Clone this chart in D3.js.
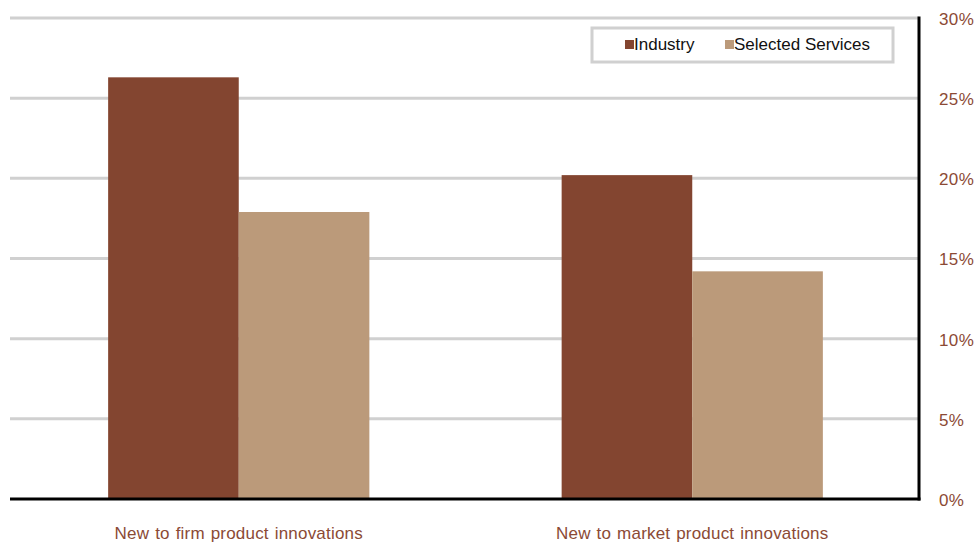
<!DOCTYPE html>
<html><head><meta charset="utf-8">
<script src="https://cdn.jsdelivr.net/npm/d3@7"></script>
<style>body{margin:0;background:#fff}svg{display:block}text{font-family:"Liberation Sans",Arial,sans-serif}</style>
</head><body><svg id="c" width="977" height="545"></svg>
<script>
const categories = ["New to firm product innovations", "New to market product innovations"];
const seriesNames = ["Industry", "Selected Services"];
const industry = [26.3, 20.2];
const services = [17.9, 14.2];
const yTicks = [0, 5, 10, 15, 20, 25, 30];
const colors = ["#834530", "#BB9A7A"];

(function () {
const svg = d3.select("#c");
const mL = 12, mR = 919, mT = 18, mB = 499;
const y = d3.scaleLinear().domain([0, 30]).range([mB, mT]);
const x0 = d3.scaleBand().domain(categories).range([mL, mR]).paddingInner(0.424).paddingOuter(0.212);
const x1 = d3.scaleBand().domain(seriesNames).range([0, x0.bandwidth()]);

svg.append("g").selectAll("line").data(yTicks.filter(d => d > 0)).join("line")
  .attr("x1", mL - 2).attr("x2", mR).attr("y1", d => y(d)).attr("y2", d => y(d))
  .attr("stroke", "#d0d0d0").attr("stroke-width", 3);

const data = categories.map((c, i) => ({c, vals: [industry[i], services[i]]}));
const g = svg.append("g").selectAll("g").data(data).join("g")
  .attr("transform", d => `translate(${x0(d.c)},0)`);
g.selectAll("rect").data(d => d.vals.map((v, j) => ({v, s: seriesNames[j], j}))).join("rect")
  .attr("x", d => x1(d.s)).attr("width", x1.bandwidth())
  .attr("y", d => y(d.v)).attr("height", d => y(0) - y(d.v))
  .attr("fill", d => colors[d.j]);

const yAxis = d3.axisRight(y).tickValues(yTicks).tickFormat(d => d + "%").tickSize(0).tickPadding(20);
const ya = svg.append("g").attr("transform", `translate(${mR},0)`).call(yAxis);
ya.select(".domain").remove();
ya.attr("font-family", null);
ya.selectAll("text").attr("fill", "#8B4A35").style("font-size", "17px").attr("dy", "0.38em").style("letter-spacing", "0.4px");
svg.append("line").attr("x1", mR).attr("x2", mR).attr("y1", mT - 1.5).attr("y2", mB + 1.5)
  .attr("stroke", "#000").attr("stroke-width", 3);

const xAxis = d3.axisBottom(x0).tickSize(0).tickPadding(28);
const xa = svg.append("g").attr("transform", `translate(0,${mB})`).call(xAxis);
xa.select(".domain").remove();
xa.attr("font-family", null);
xa.selectAll("text").attr("fill", "#8B4A35").style("font-size", "17px").style("letter-spacing", "0.2px").style("word-spacing", "1px");
svg.append("line").attr("x1", mL - 2).attr("x2", mR + 1.5).attr("y1", mB).attr("y2", mB)
  .attr("stroke", "#000").attr("stroke-width", 3);

const lg = svg.append("g");
lg.append("rect").attr("x", 592).attr("y", 28).attr("width", 301).attr("height", 34)
  .attr("fill", "#fff").attr("stroke", "#d0d0d0").attr("stroke-width", 3);
const lx = [625, 725];
seriesNames.forEach((s, i) => {
  lg.append("rect").attr("x", lx[i]).attr("y", 40).attr("width", 9).attr("height", 9).attr("fill", colors[i]);
  lg.append("text").attr("x", lx[i] + 9).attr("y", 50).text(s).attr("fill", "#111").style("font-size", "17px");
});
})();
</script></body></html>
